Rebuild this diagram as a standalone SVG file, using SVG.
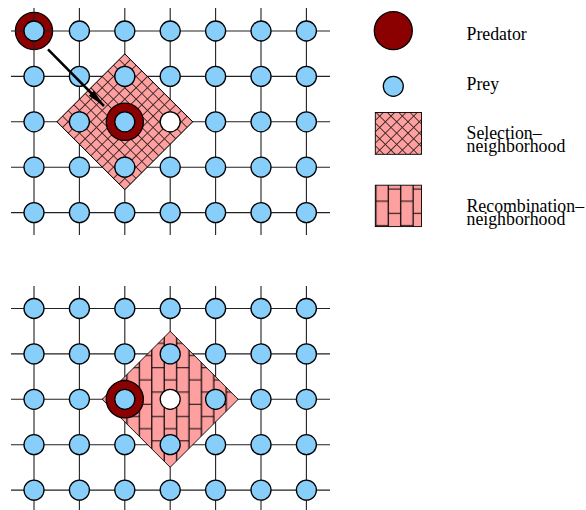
<svg xmlns="http://www.w3.org/2000/svg" xmlns:xlink="http://www.w3.org/1999/xlink" width="586" height="510" viewBox="0 0 586 510">
  <style>
    .grid { stroke: #222; stroke-width: 1.1; fill: none; }
    .prey { fill: #87cefa; stroke: #000; stroke-width: 1.3; }
    .empty { fill: #fff; stroke: #000; stroke-width: 1.3; }
    .pred { fill: #8b0000; stroke: #000; stroke-width: 1.3; }
    .sel { fill: url(#crossHatch); stroke: #000; stroke-width: 0.9; }
    .rec { fill: url(#bricks); stroke: #000; stroke-width: 0.9; }
    .recLegend { fill: url(#bricksLegend); stroke: #000; stroke-width: 0.9; }
    .label { font-family: "Liberation Serif", "Times New Roman", serif; font-size: 17.8px; fill: #000; }
    .arrow { stroke: #000; stroke-width: 2.5; fill: none; }
  </style>
  <defs>
    <circle id="prey" r="10" class="prey"/>
    <circle id="empty" r="10" class="empty"/>
    <circle id="pred" r="18.6" class="pred"/>
    <!-- diagonal cross-hatch, lines parallel to the diamond edges -->
    <pattern id="crossHatch" patternUnits="userSpaceOnUse" width="8.01" height="8.01"
             patternTransform="translate(124.8,53.8) rotate(45) translate(-4.005,-4.005)">
      <rect width="8.01" height="8.01" fill="#ffa0a0"/>
      <path d="M4.005,-1 V9.01 M-1,4.005 H9.01" stroke="#3a2626" stroke-width="0.95" fill="none"/>
    </pattern>
    <!-- upright bricks, 12.4 x 24.4, alternate columns offset by half a brick -->
    <pattern id="bricks" patternUnits="userSpaceOnUse" width="24.8" height="24.4"
             patternTransform="translate(158,325)">
      <rect width="24.8" height="24.4" fill="#ffa0a0"/>
      <path d="M6.2,0 V24.4 M18.6,0 V24.4 M6.2,6.1 H18.6 M18.6,18.3 H24.8 M0,18.3 H6.2" stroke="#000" stroke-width="1.2" fill="none"/>
    </pattern>
    <pattern id="bricksLegend" patternUnits="userSpaceOnUse" width="24.8" height="24.4"
             patternTransform="translate(382.1,182.9)">
      <rect width="24.8" height="24.4" fill="#ffa0a0"/>
      <path d="M6.2,0 V24.4 M18.6,0 V24.4 M6.2,6.1 H18.6 M18.6,18.3 H24.8 M0,18.3 H6.2" stroke="#000" stroke-width="1.2" fill="none"/>
    </pattern>
    <marker id="head" markerUnits="userSpaceOnUse" markerWidth="22" markerHeight="10" refX="18" refY="3.6" orient="auto">
      <path d="M0,0 L18,3.6 L0,7.2 Z" fill="#000"/>
    </marker>
  </defs>

  <!-- ===== upper lattice: predator moving into its selection neighbourhood ===== -->
  <g id="predator-start">
    <use href="#pred" x="34" y="31"/>
  </g>
  <g id="lattice-top" class="grid">
    <path d="M11,31 H330 M11,76.4 H330 M11,121.8 H330 M11,167.2 H330 M11,212.6 H330"/>
    <path d="M34,8 V235 M79.4,8 V235 M124.8,8 V235 M170.2,8 V235 M215.6,8 V235 M261,8 V235 M306.4,8 V235"/>
  </g>
  <g id="selection-area">
    <path class="sel" d="M124.8,53.8 L192.8,121.8 L124.8,189.8 L56.8,121.8 Z"/>
  </g>
  <g id="predator-top">
    <use href="#pred" x="124.8" y="121.8"/>
  </g>
  <g id="prey-top">
    <g id="t-0-0"><use href="#prey" x="34" y="31"/></g>
    <g id="t-0-1"><use href="#prey" x="79.4" y="31"/></g>
    <g id="t-0-2"><use href="#prey" x="124.8" y="31"/></g>
    <g id="t-0-3"><use href="#prey" x="170.2" y="31"/></g>
    <g id="t-0-4"><use href="#prey" x="215.6" y="31"/></g>
    <g id="t-0-5"><use href="#prey" x="261" y="31"/></g>
    <g id="t-0-6"><use href="#prey" x="306.4" y="31"/></g>
    <g id="t-1-0"><use href="#prey" x="34" y="76.4"/></g>
    <g id="t-1-1"><use href="#prey" x="79.4" y="76.4"/></g>
    <g id="t-1-2"><use href="#prey" x="124.8" y="76.4"/></g>
    <g id="t-1-3"><use href="#prey" x="170.2" y="76.4"/></g>
    <g id="t-1-4"><use href="#prey" x="215.6" y="76.4"/></g>
    <g id="t-1-5"><use href="#prey" x="261" y="76.4"/></g>
    <g id="t-1-6"><use href="#prey" x="306.4" y="76.4"/></g>
    <g id="t-2-0"><use href="#prey" x="34" y="121.8"/></g>
    <g id="t-2-1"><use href="#prey" x="79.4" y="121.8"/></g>
    <g id="t-2-2"><use href="#prey" x="124.8" y="121.8"/></g>
    <g id="t-2-3"><use href="#empty" x="170.2" y="121.8"/></g>
    <g id="t-2-4"><use href="#prey" x="215.6" y="121.8"/></g>
    <g id="t-2-5"><use href="#prey" x="261" y="121.8"/></g>
    <g id="t-2-6"><use href="#prey" x="306.4" y="121.8"/></g>
    <g id="t-3-0"><use href="#prey" x="34" y="167.2"/></g>
    <g id="t-3-1"><use href="#prey" x="79.4" y="167.2"/></g>
    <g id="t-3-2"><use href="#prey" x="124.8" y="167.2"/></g>
    <g id="t-3-3"><use href="#prey" x="170.2" y="167.2"/></g>
    <g id="t-3-4"><use href="#prey" x="215.6" y="167.2"/></g>
    <g id="t-3-5"><use href="#prey" x="261" y="167.2"/></g>
    <g id="t-3-6"><use href="#prey" x="306.4" y="167.2"/></g>
    <g id="t-4-0"><use href="#prey" x="34" y="212.6"/></g>
    <g id="t-4-1"><use href="#prey" x="79.4" y="212.6"/></g>
    <g id="t-4-2"><use href="#prey" x="124.8" y="212.6"/></g>
    <g id="t-4-3"><use href="#prey" x="170.2" y="212.6"/></g>
    <g id="t-4-4"><use href="#prey" x="215.6" y="212.6"/></g>
    <g id="t-4-5"><use href="#prey" x="261" y="212.6"/></g>
    <g id="t-4-6"><use href="#prey" x="306.4" y="212.6"/></g>
  </g>

  <g id="connectors">
    <path class="arrow" d="M48,49.3 L104,106" marker-end="url(#head)"/>
  </g>

  <!-- ===== lower lattice: recombination neighbourhood ===== -->
  <g id="lattice-bottom" class="grid">
    <path d="M11,308.5 H330 M11,353.9 H330 M11,399.3 H330 M11,444.7 H330 M11,490.1 H330"/>
    <path d="M34,286 V510 M79.4,286 V510 M124.8,286 V510 M170.2,286 V510 M215.6,286 V510 M261,286 V510 M306.4,286 V510"/>
  </g>
  <g id="recombination-area">
    <path class="rec" d="M170.2,331.3 L238.2,399.3 L170.2,467.3 L102.2,399.3 Z"/>
  </g>
  <g id="predator-bottom">
    <use href="#pred" x="124.8" y="399.3"/>
  </g>
  <g id="prey-bottom">
    <g id="b-0-0"><use href="#prey" x="34" y="308.5"/></g>
    <g id="b-0-1"><use href="#prey" x="79.4" y="308.5"/></g>
    <g id="b-0-2"><use href="#prey" x="124.8" y="308.5"/></g>
    <g id="b-0-3"><use href="#prey" x="170.2" y="308.5"/></g>
    <g id="b-0-4"><use href="#prey" x="215.6" y="308.5"/></g>
    <g id="b-0-5"><use href="#prey" x="261" y="308.5"/></g>
    <g id="b-0-6"><use href="#prey" x="306.4" y="308.5"/></g>
    <g id="b-1-0"><use href="#prey" x="34" y="353.9"/></g>
    <g id="b-1-1"><use href="#prey" x="79.4" y="353.9"/></g>
    <g id="b-1-2"><use href="#prey" x="124.8" y="353.9"/></g>
    <g id="b-1-3"><use href="#prey" x="170.2" y="353.9"/></g>
    <g id="b-1-4"><use href="#prey" x="215.6" y="353.9"/></g>
    <g id="b-1-5"><use href="#prey" x="261" y="353.9"/></g>
    <g id="b-1-6"><use href="#prey" x="306.4" y="353.9"/></g>
    <g id="b-2-0"><use href="#prey" x="34" y="399.3"/></g>
    <g id="b-2-1"><use href="#prey" x="79.4" y="399.3"/></g>
    <g id="b-2-2"><use href="#prey" x="124.8" y="399.3"/></g>
    <g id="b-2-3"><use href="#empty" x="170.2" y="399.3"/></g>
    <g id="b-2-4"><use href="#prey" x="215.6" y="399.3"/></g>
    <g id="b-2-5"><use href="#prey" x="261" y="399.3"/></g>
    <g id="b-2-6"><use href="#prey" x="306.4" y="399.3"/></g>
    <g id="b-3-0"><use href="#prey" x="34" y="444.7"/></g>
    <g id="b-3-1"><use href="#prey" x="79.4" y="444.7"/></g>
    <g id="b-3-2"><use href="#prey" x="124.8" y="444.7"/></g>
    <g id="b-3-3"><use href="#prey" x="170.2" y="444.7"/></g>
    <g id="b-3-4"><use href="#prey" x="215.6" y="444.7"/></g>
    <g id="b-3-5"><use href="#prey" x="261" y="444.7"/></g>
    <g id="b-3-6"><use href="#prey" x="306.4" y="444.7"/></g>
    <g id="b-4-0"><use href="#prey" x="34" y="490.1"/></g>
    <g id="b-4-1"><use href="#prey" x="79.4" y="490.1"/></g>
    <g id="b-4-2"><use href="#prey" x="124.8" y="490.1"/></g>
    <g id="b-4-3"><use href="#prey" x="170.2" y="490.1"/></g>
    <g id="b-4-4"><use href="#prey" x="215.6" y="490.1"/></g>
    <g id="b-4-5"><use href="#prey" x="261" y="490.1"/></g>
    <g id="b-4-6"><use href="#prey" x="306.4" y="490.1"/></g>
  </g>

  <!-- ===== legend ===== -->
  <g id="legend-predator">
    <circle cx="393.3" cy="30.7" r="19" class="pred"/>
    <text class="label" x="466.5" y="40">Predator</text>
  </g>
  <g id="legend-prey">
    <circle cx="393.3" cy="86.3" r="10" class="prey"/>
    <text class="label" x="466.5" y="89.5">Prey</text>
  </g>
  <g id="legend-selection">
    <rect class="sel" x="375.3" y="112.5" width="46.2" height="41.8"/>
    <text class="label" x="466.5" y="138.5">Selection–</text>
    <text class="label" x="466.5" y="151.8">neighborhood</text>
  </g>
  <g id="legend-recombination">
    <rect class="recLegend" x="375.3" y="185.2" width="46.2" height="41.4"/>
    <text class="label" x="466.5" y="212.3">Recombination–</text>
    <text class="label" x="466.5" y="225.4">neighborhood</text>
  </g>
</svg>
